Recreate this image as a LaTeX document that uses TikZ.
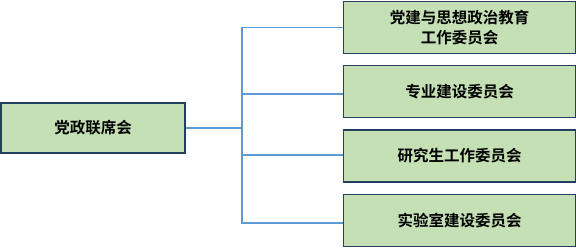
\documentclass[tikz,border=0pt]{standalone}
\usepackage{fontspec}
\newfontfamily\cjk{Noto Sans CJK SC}[BoldFont={* Bold}]
\definecolor{boxfill}{HTML}{C5E0B4}
\definecolor{boxline}{HTML}{243F60}
\definecolor{conn}{HTML}{5B9BD5}
\begin{document}
\begin{tikzpicture}[x=1pt,y=-1pt,
  orgbox/.style={draw=boxline,line width=1.4pt,fill=boxfill,inner sep=0pt,
    font=\cjk\bfseries\fontsize{15.5}{20}\selectfont,align=center},
  link/.style={draw=conn,line width=1.2pt}]
\useasboundingbox (0,0) rectangle (576,248);
\node[orgbox,minimum width=184pt,minimum height=50pt] (root) at (93,128) {党政联席会};
\node[orgbox,minimum width=232pt,minimum height=52pt] (c1) at (459.5,27.5) {党建与思想政治教育\\工作委员会};
\node[orgbox,minimum width=232pt,minimum height=52pt] (c2) at (459.5,91.5) {专业建设委员会};
\node[orgbox,minimum width=232pt,minimum height=52pt] (c3) at (459.5,156) {研究生工作委员会};
\node[orgbox,minimum width=232pt,minimum height=52pt] (c4) at (459.5,220.5) {实验室建设委员会};
\coordinate (top) at (242,27.5);
\coordinate (bot) at (242,223);
\coordinate (bus) at (242,128);
\draw[link] (root.east) -- (bus);
\draw[link] (c1.west) -- (top) -- (bot) -- (c4.west |- bot);
\draw[link] (242,94) -- (c2.west |- 0,94);
\draw[link] (242,155) -- (c3.west |- 0,155);
\end{tikzpicture}
\end{document}
